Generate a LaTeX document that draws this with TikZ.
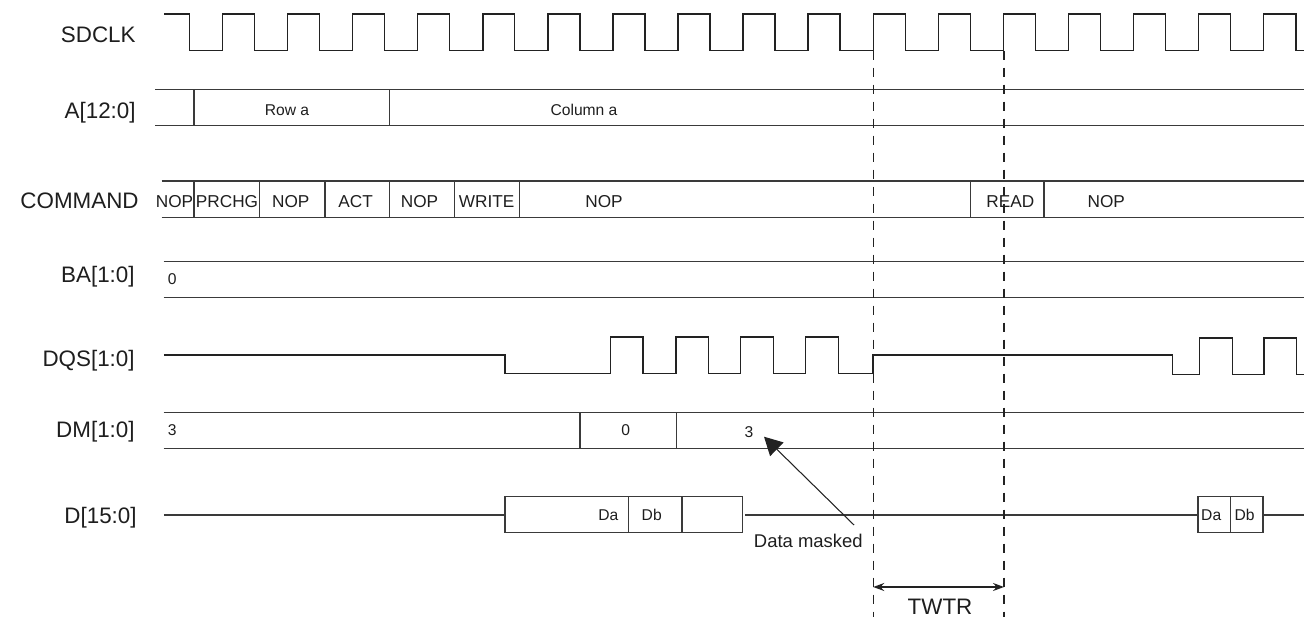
\documentclass[tikz,border=0pt]{standalone}
\usepackage{fontspec}
\setmainfont{Liberation Sans}
\usepackage{tikz}
\usetikzlibrary{arrows.meta}
\definecolor{tdline}{RGB}{34,34,34}
\definecolor{tdbus}{RGB}{58,58,58}
\definecolor{tdtext}{RGB}{30,30,30}

\begin{document}
\begin{tikzpicture}[x=0.02cm,y=-0.02cm,
  sig/.style={tdline,line width=0.75pt},
  bus/.style={tdbus,line width=0.75pt},
  guide/.style={tdline,line width=0.6pt,dash pattern=on 0.18cm off 0.16cm},
  lbl/.style={anchor=base east,inner sep=0pt,text=tdtext,font=\fontsize{12.75}{14}\selectfont},
  cmdtxt/.style={inner sep=0pt,text=tdtext,font=\fontsize{9.8}{11}\selectfont},
  val/.style={inner sep=0pt,text=tdtext,font=\fontsize{8.9}{10}\selectfont}]
  \useasboundingbox (0,0) rectangle (1304,617);
  % Signal names
  \node[lbl] (lclk) at (136,42.3) {SDCLK};
  \node[lbl] (laddr) at (136,118.3) {A[12:0]};
  \node[lbl] (lcmd) at (139,208.5) {COMMAND};
  \node[lbl] (lba) at (135,283) {BA[1:0]};
  \node[lbl] (ldqs) at (135,366.5) {DQS[1:0]};
  \node[lbl] (ldm) at (135,438) {DM[1:0]};
  \node[lbl] (ld) at (137,523) {D[15:0]};
  % SDCLK
  \draw[sig] (164,14) foreach \k in {0,...,16} {
    -- ({189.5+65.06*\k},14) -- ++(0,36.7) -- ({222.6+65.06*\k},50.7) -- ++(0,-36.7)}
    -- (1296,14) -- (1296,50.7) -- (1304,50.7);
  % A[12:0]
  \draw[bus] (155,89.3) -- (1304,89.3) (155,125.3) -- (1304,125.3);
  \foreach \x in {194,389.5} \draw[bus] (\x,89.3) -- (\x,125.3);
  \node[val] (rowa) at (287,110) {Row a};
  \node[val] (cola) at (584,110) {Column a};
  % COMMAND
  \draw[bus] (161.7,181) -- (1304,181) (161.7,217.3) -- (1304,217.3);
  \foreach \x in {194,259.3,325,389.3,454.3,519.3,970.7,1044} \draw[bus] (\x,181) -- (\x,217.3);
  \foreach \x/\t [count=\i] in {174.5/NOP,227/PRCHG,290.8/NOP,355.7/ACT,419.5/NOP,486.7/WRITE,
    604/NOP,1010.3/READ,1106.3/NOP}
    \node[cmdtxt] (cmd\i) at (\x,201.5) {\t};
  % BA[1:0]
  \draw[bus] (163.5,261.7) -- (1304,261.7) (163.5,297.7) -- (1304,297.7);
  \node[val] (ba0) at (172.3,279.3) {0};
  % DQS[1:0]
  \draw[sig] (163.8,355) -- (505,355) -- (505,373.5)
    foreach \r/\f in {610.7/643,675.9/708.4,740.5/773.5,805.6/838.5} {
      -- (\r,373.5) -- (\r,337) -- (\f,337) -- (\f,373.5)}
    -- (873.1,373.5) -- (873.1,355) -- (1172.2,355) -- (1172.2,374.5)
    foreach \r/\f in {1199.7/1232.3,1264/1296.5} {
      -- (\r,374.5) -- (\r,338) -- (\f,338) -- (\f,374.5)}
    -- (1304,374.5);
  % DM[1:0]
  \draw[bus] (163.5,412.7) -- (1304,412.7) (163.5,448.7) -- (1304,448.7);
  \foreach \x in {580,676.7} \draw[bus] (\x,412.7) -- (\x,448.7);
  \node[val] (dm3a) at (172.3,430) {3};
  \node[val] (dm0) at (625.7,430.5) {0};
  \node[val] (dm3b) at (749,432.3) {3};
  % D[15:0]
  \draw[bus] (163.8,515) -- (505,515);
  \draw[bus] (505,496.7) rectangle (742.3,532.7);
  \foreach \x in {628.5,682} \draw[bus] (\x,496.7) -- (\x,532.7);
  \draw[bus] (745,515) -- (1198,515);
  \draw[bus] (1198,496.7) rectangle (1263,532.7);
  \draw[bus] (1230.8,496.7) -- (1230.8,532.7);
  \draw[bus] (1263,515) -- (1304,515);
  \node[val] (da1) at (608.3,515) {Da};
  \node[val] (db1) at (651.7,514.5) {Db};
  \node[val] (da2) at (1211.2,515) {Da};
  \node[val] (db2) at (1244.6,515) {Db};
  % Data masked
  \node[inner sep=0pt,text=tdtext,font=\fontsize{10.5}{12}\selectfont] (masked) at (808.3,541.3) {Data masked};
  \coordinate (masktail) at (854,525);
  \coordinate (masktip) at (764,436.7);
  \draw[tdline,line width=0.6pt,-{Triangle[length=0.36cm,width=0.38cm]}] (masktail) -- (masktip);
  % TWTR
  \draw[guide] (873.2,50.7) -- (873.2,617);
  \draw[guide] (1004,50.7) -- (1004,617);
  \coordinate (twtrL) at (873.2,587);
  \coordinate (twtrR) at (1004,587);
  \draw[tdline,line width=0.75pt,{Stealth[length=0.22cm,width=0.16cm]}-{Stealth[length=0.22cm,width=0.16cm]}] (twtrL) -- (twtrR);
  \node[anchor=base,inner sep=0pt,text=tdtext,font=\fontsize{12.75}{14}\selectfont] (twtr) at (940,614) {TWTR};
\end{tikzpicture}
\end{document}
